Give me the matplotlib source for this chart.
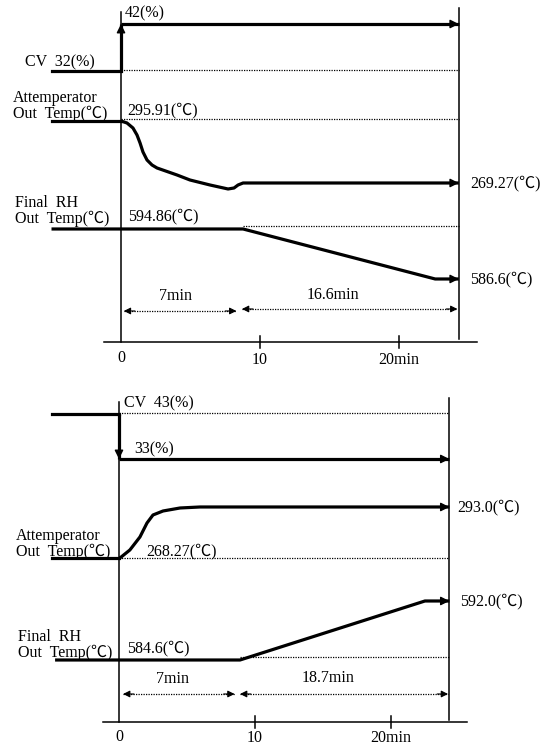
import numpy as np
import matplotlib.pyplot as plt

plt.rcParams['font.family'] = ['Liberation Serif', 'Noto Sans CJK JP', 'DejaVu Sans']

# ---- data (time in min, level = schematic height above time axis) ----
t_end = 24.3
t_split_top = 8.78
t_split_bot = 8.9

# top panel: CV step up 32% -> 42%
cv_top_labels = ["CV  32(%)", "42(%)"]
cv_top_levels = [271, 318]

att_top_t = [0, 0.43, 0.86, 1.15, 1.37, 1.58, 1.87, 2.23, 2.59, 4.03, 4.96,
             6.4, 7.7, 8.13, 8.42, 8.78, t_end]
att_top_lv = [221, 219, 214, 207, 199, 190, 182, 177, 174, 167, 162,
              157, 153, 154, 157, 159, 159]
att_top_labels = ["295.91(℃)", "269.27(℃)"]

rh_top_t = [-5.0, t_split_top, 22.6, t_end]
rh_top_lv = [113, 113, 63, 63]
rh_top_labels = ["594.86(℃)", "586.6(℃)"]
dur_top = ["7min", "16.6min"]

# bottom panel: CV step down 43% -> 33%
cv_bot_labels = ["CV  43(%)", "33(%)"]
cv_bot_levels = [308, 263]

att_bot_t = [0, 0.07, 0.8, 1.54, 2.06, 2.5, 3.24, 4.49, 5.96, t_end]
att_bot_lv = [164, 164, 172, 185, 199, 207, 211, 214, 215, 215]
att_bot_labels = ["268.27(℃)", "293.0(℃)"]

rh_bot_t = [-4.7, t_split_bot, 22.5, t_end]
rh_bot_lv = [62, 62, 121, 121]
rh_bot_labels = ["584.6(℃)", "592.0(℃)"]
dur_bot = ["7min", "18.7min"]

ticks = [0, 10, 20]
tick_labels = ["0", "10", "20min"]

FS = 11.5
THICK = 2.3
DOT = (0, (1, 1))


def head(ax, x0, y0, x1, y1, ms=11, lw=0.8):
    ax.annotate("", xy=(x1, y1), xytext=(x0, y0),
                arrowprops=dict(arrowstyle="-|>", lw=lw, color="black",
                                mutation_scale=ms, shrinkA=0, shrinkB=0))


def thick_arrow(ax, xs, ys):
    ax.plot(xs, ys, color="black", lw=THICK, solid_capstyle="butt")
    dx = xs[-1] - xs[-2]
    dy = ys[-1] - ys[-2]
    n = np.hypot(dx / 25.0, dy / 300.0)
    head(ax, xs[-1] - dx * 0.02 / n, ys[-1] - dy * 0.02 / n, xs[-1], ys[-1],
         ms=13, lw=1.0)


def dotted(ax, xs, ys):
    ax.plot(xs, ys, color="black", lw=0.9, linestyle=DOT)


def base(ax, top_level, right_low, right_high, ylim, xlim):
    ax.set_xlim(*xlim)
    ax.set_ylim(*ylim)
    ax.axis("off")
    ax.plot([0, 0], [0, top_level], color="black", lw=1.1)
    ax.plot([t_end, t_end], [right_low, right_high], color="black", lw=1.1)
    ax.plot([-1.2, 25.6], [0, 0], color="black", lw=1.1)
    for t in ticks[1:]:
        ax.plot([t, t], [-6, 6], color="black", lw=1.1)


fig = plt.figure(figsize=(5.40, 7.45), dpi=100)
ax1 = fig.add_axes([0, 0.5007, 1, 0.4993])
ax2 = fig.add_axes([0, 0, 1, 0.5007])

# ---------------- top panel ----------------
ax = ax1
base(ax, 330, 3, 334, (-30, 342), (-8.705, 30.14))
# CV
ax.plot([-5.0, 0], [cv_top_levels[0]] * 2, color="black", lw=THICK)
thick_arrow(ax, [0, 0], [cv_top_levels[0], cv_top_levels[1]])
thick_arrow(ax, [0, t_end], [cv_top_levels[1]] * 2)
dotted(ax, [0, t_end], [cv_top_levels[0] + 1] * 2)
ax.text(-1.9, 280, cv_top_labels[0], ha="right", va="center", fontsize=FS)
ax.text(0.3, 329, cv_top_labels[1], ha="left", va="center", fontsize=FS)
# Attemperator
ax.plot([-5.0, 0], [att_top_lv[0]] * 2, color="black", lw=THICK)
thick_arrow(ax, att_top_t, att_top_lv)
dotted(ax, [0, t_end], [att_top_lv[0] + 2] * 2)
ax.text(-7.75, 236, "Attemperator\nOut  Temp(℃)", ha="left", va="center",
        fontsize=FS, linespacing=1.0)
ax.text(0.43, 232, att_top_labels[0], ha="left", va="center", fontsize=FS)
ax.text(25.1, att_top_lv[-1], att_top_labels[1], ha="left", va="center", fontsize=FS)
# Final RH
thick_arrow(ax, rh_top_t, rh_top_lv)
dotted(ax, [t_split_top, t_end], [rh_top_lv[0] + 3] * 2)
ax.text(-7.6, 131, "Final  RH\nOut  Temp(℃)", ha="left", va="center",
        fontsize=FS, linespacing=1.0)
ax.text(0.5, 126, rh_top_labels[0], ha="left", va="center", fontsize=FS)
ax.text(25.1, rh_top_lv[-1], rh_top_labels[1], ha="left", va="center", fontsize=FS)
# durations
dotted(ax, [0.2, 8.3], [31, 31])
head(ax, 1.0, 31, 0.2, 31, ms=10)
head(ax, 7.5, 31, 8.3, 31, ms=10)
dotted(ax, [8.7, 24.2], [33, 33])
head(ax, 9.5, 33, 8.7, 33, ms=10)
head(ax, 23.4, 33, 24.2, 33, ms=10)
ax.text(3.9, 46, dur_top[0], ha="center", va="center", fontsize=FS)
ax.text(15.25, 47, dur_top[1], ha="center", va="center", fontsize=FS)
for t, lab, yy in zip(ticks, tick_labels, [-16, -18, -18]):
    ax.text(t, yy, lab, ha="center", va="center", fontsize=FS)

# ---------------- bottom panel ----------------
ax = ax2
base(ax, 320, 2, 324, (-23, 350), (-8.75, 30.96))
# CV
ax.plot([-4.9, 0], [cv_bot_levels[0]] * 2, color="black", lw=THICK)
thick_arrow(ax, [0, 0], [cv_bot_levels[0], cv_bot_levels[1]])
thick_arrow(ax, [0, t_end], [cv_bot_levels[1]] * 2)
dotted(ax, [0, t_end], [cv_bot_levels[0] + 1] * 2)
ax.text(0.37, 319, cv_bot_labels[0], ha="left", va="center", fontsize=FS)
ax.text(1.1, 273, cv_bot_labels[1], ha="left", va="center", fontsize=FS)
# Attemperator
ax.plot([-4.9, 0], [att_bot_lv[0]] * 2, color="black", lw=THICK)
thick_arrow(ax, att_bot_t, att_bot_lv)
dotted(ax, [0, t_end], [att_bot_lv[0]] * 2)
ax.text(-7.55, 178, "Attemperator\nOut  Temp(℃)", ha="left", va="center",
        fontsize=FS, linespacing=1.0)
ax.text(2.0, 171, att_bot_labels[0], ha="left", va="center", fontsize=FS)
ax.text(24.9, att_bot_lv[-1], att_bot_labels[1], ha="left", va="center", fontsize=FS)
# Final RH
thick_arrow(ax, rh_bot_t, rh_bot_lv)
dotted(ax, [t_split_bot, t_end], [rh_bot_lv[0] + 3] * 2)
ax.text(-7.45, 77, "Final  RH\nOut  Temp(℃)", ha="left", va="center",
        fontsize=FS, linespacing=1.0)
ax.text(0.6, 74, rh_bot_labels[0], ha="left", va="center", fontsize=FS)
ax.text(25.1, rh_bot_lv[-1], rh_bot_labels[1], ha="left", va="center", fontsize=FS)
# durations
dotted(ax, [0.3, 8.5], [28, 28])
head(ax, 1.1, 28, 0.3, 28, ms=10)
head(ax, 7.7, 28, 8.5, 28, ms=10)
dotted(ax, [8.9, 24.2], [28, 28])
head(ax, 9.7, 28, 8.9, 28, ms=10)
head(ax, 23.4, 28, 24.2, 28, ms=10)
ax.text(3.9, 43, dur_bot[0], ha="center", va="center", fontsize=FS)
ax.text(15.4, 44, dur_bot[1], ha="center", va="center", fontsize=FS)
for t, lab, yy in zip(ticks, tick_labels, [-15, -16, -16]):
    ax.text(t, yy, lab, ha="center", va="center", fontsize=FS)

fig.savefig("out.png", dpi=100)
